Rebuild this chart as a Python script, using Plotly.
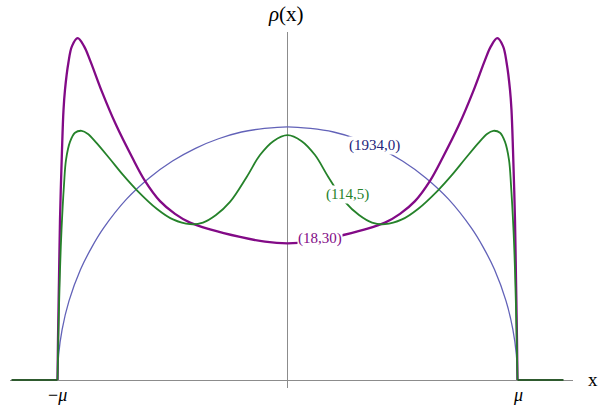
import plotly.graph_objects as go

PURPLE = "#820a86"
GREEN = "#25822a"
BLUE = "#6262b8"
AXIS_COLOR = "#8c8c8c"
SERIF = "Liberation Serif"

# (18,30) curve
purple_x = [-1.0, -0.9978, -0.9935, -0.9891, -0.9804, -0.9739, -0.9674, -0.953, -0.937,
            -0.9122, -0.8848, -0.8587, -0.8065, -0.7457, -0.6761, -0.6196, -0.5543,
            -0.4891, -0.4239, -0.337, -0.2065, -0.0978, 0.0,
            0.0978, 0.2065, 0.337, 0.4239, 0.4891, 0.5543, 0.6196, 0.6761, 0.7457,
            0.8065, 0.8587, 0.8848, 0.9122, 0.937, 0.953, 0.9674, 0.9739, 0.9804,
            0.9891, 0.9935, 0.9978, 1.0]
purple_rho = [0.0, 0.101, 0.252, 0.403, 0.579, 0.679, 0.730, 0.797, 0.840,
              0.860, 0.840, 0.805, 0.725, 0.642, 0.561, 0.501, 0.450,
              0.418, 0.396, 0.379, 0.360, 0.348, 0.344,
              0.348, 0.360, 0.379, 0.396, 0.418, 0.450, 0.501, 0.561, 0.642,
              0.725, 0.805, 0.840, 0.860, 0.840, 0.797, 0.730, 0.679, 0.579,
              0.403, 0.252, 0.101, 0.0]

# (114,5) curve
green_x = [-1.0, -0.9957, -0.9891, -0.9826, -0.9717, -0.963, -0.9457, -0.9239, -0.8948,
           -0.8674, -0.8296, -0.7717, -0.7152, -0.6557, -0.5687, -0.4978, -0.4239,
           -0.3674, -0.3109, -0.25, -0.1774, -0.1196, -0.0617, 0.0,
           0.0617, 0.1196, 0.1774, 0.25, 0.3109, 0.3674, 0.4239, 0.4978, 0.5687,
           0.6557, 0.7152, 0.7717, 0.8296, 0.8674, 0.8948, 0.9239, 0.9457, 0.963,
           0.9717, 0.9826, 0.9891, 0.9957, 1.0]
green_rho = [0.0, 0.126, 0.277, 0.377, 0.491, 0.554, 0.599, 0.622, 0.627,
             0.619, 0.596, 0.556, 0.516, 0.478, 0.431, 0.404, 0.392,
             0.396, 0.415, 0.448, 0.511, 0.566, 0.601, 0.616,
             0.601, 0.566, 0.511, 0.448, 0.415, 0.396, 0.392, 0.404, 0.431,
             0.478, 0.516, 0.556, 0.596, 0.619, 0.627, 0.622, 0.599, 0.554,
             0.491, 0.377, 0.277, 0.126, 0.0]

# (1934,0) curve
blue_x = [-1.0, -0.995, -0.98, -0.95, -0.9, -0.85, -0.8, -0.7, -0.6, -0.5, -0.4, -0.3,
          -0.2, -0.1, 0.0, 0.1, 0.2, 0.3, 0.4, 0.5, 0.6, 0.7, 0.8, 0.85, 0.9, 0.95,
          0.98, 0.995, 1.0]
blue_rho = [0.0, 0.064, 0.127, 0.199, 0.278, 0.335, 0.382, 0.455, 0.509, 0.551, 0.583,
            0.607, 0.624, 0.633, 0.637, 0.633, 0.624, 0.607, 0.583, 0.551, 0.509,
            0.455, 0.382, 0.335, 0.278, 0.199, 0.127, 0.064, 0.0]

# zero density outside the support
outside_x = [-1.2, -1.0, None, 1.0, 1.2]
outside_rho = [0.0, 0.0, None, 0.0, 0.0]

tick_vals = [-1.0, 1.0]
tick_text = ["\u2212<i>\u03bc</i>", "<i>\u03bc</i>"]

curve_labels = ["(1934,0)", "(114,5)", "(18,30)"]

fig = go.Figure()
fig.add_trace(go.Scatter(x=blue_x, y=blue_rho, mode="lines",
                         line=dict(color=BLUE, width=1.3, shape="spline"),
                         name=curve_labels[0]))
fig.add_trace(go.Scatter(x=purple_x, y=purple_rho, mode="lines",
                         line=dict(color=PURPLE, width=2.3, shape="spline"),
                         name=curve_labels[2]))
fig.add_trace(go.Scatter(x=green_x, y=green_rho, mode="lines",
                         line=dict(color=GREEN, width=1.8, shape="spline"),
                         name=curve_labels[1]))
fig.add_trace(go.Scatter(x=outside_x, y=outside_rho, mode="lines",
                         line=dict(color="#2e5a2e", width=2.2),
                         showlegend=False))

label_colors = ["#23237a", GREEN, PURPLE]
label_pos = [(0.38, 0.589), (0.259, 0.468), (0.141, 0.357)]
for text, color, (lx, ly) in zip(curve_labels, label_colors, label_pos):
    fig.add_annotation(x=lx, y=ly, text=text, showarrow=False, bgcolor="white",
                       borderpad=0, font=dict(family=SERIF, size=15, color=color))

# tick labels drawn as annotations so they sit close under the axis
for val, text in zip(tick_vals, tick_text):
    fig.add_annotation(x=val, xref="x", y=0, yref="paper", yanchor="middle",
                       yshift=-7, text=text, showarrow=False,
                       font=dict(family=SERIF, size=18, color="black"))

fig.add_annotation(xref="paper", yref="paper", x=0.4905, y=1.0, yanchor="bottom",
                   xanchor="center", text="<i>\u03c1</i>(x)", showarrow=False, yshift=4,
                   font=dict(family=SERIF, size=21, color="black"))
fig.add_annotation(xref="paper", yref="y", x=1.0, y=0, xanchor="left",
                   xshift=13, yshift=1, text="x", showarrow=False,
                   font=dict(family=SERIF, size=19, color="black"))

fig.update_layout(
    width=599, height=408,
    plot_bgcolor="white", paper_bgcolor="white",
    showlegend=False,
    margin=dict(l=10, r=26, t=32, b=20),
    xaxis=dict(range=[-1.2065, 1.2413], showgrid=False, zeroline=True,
               zerolinecolor=AXIS_COLOR, zerolinewidth=1,
               showticklabels=False, ticks="",
               showline=False, fixedrange=True, automargin=False),
    yaxis=dict(range=[-0.0201, 0.8756], showgrid=False, zeroline=True,
               zerolinecolor=AXIS_COLOR, zerolinewidth=1,
               showticklabels=False, ticks="", showline=False, fixedrange=True,
               automargin=False),
)

# drop the browser's default body margin so the figure fills the window
fig.write_html("out.html", config={"displayModeBar": False},
               post_script="document.body.style.margin = '0';")
